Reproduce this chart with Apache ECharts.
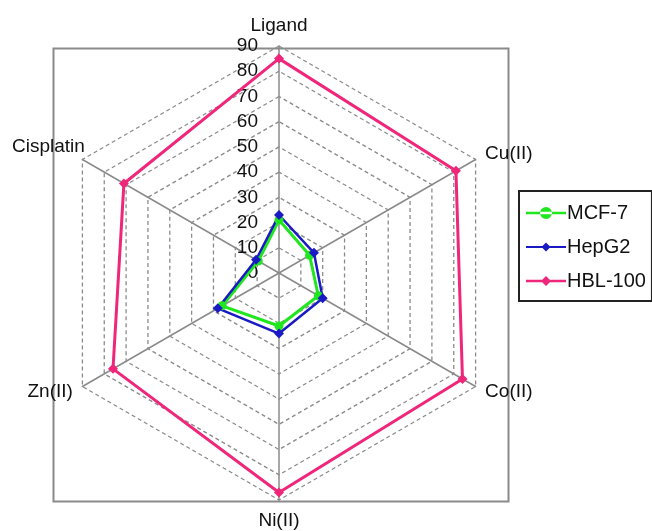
<!DOCTYPE html>
<html>
<head>
<meta charset="utf-8">
<script src="https://cdn.jsdelivr.net/npm/echarts@6/dist/echarts.min.js"></script>
<style>
html,body{margin:0;padding:0;background:#fff;}
#chart{width:652px;height:531px;}
</style>
</head>
<body>
<div id="chart"></div>
<script>
// Categories in the picture's clockwise order starting from the top
const categories = ['Ligand', 'Cu(II)', 'Co(II)', 'Ni(II)', 'Zn(II)', 'Cisplatin'];
const mcf7 = [21, 14, 18, 21, 26, 9.5];
const hepg2 = [23, 16, 20, 24, 28, 10.5];
const hbl100 = [85, 81, 84, 87, 76, 71];
const seriesNames = ['MCF-7', 'HepG2', 'HBL-100'];
const axisMin = 0, axisMax = 90, axisSplit = 9;

// ECharts lays indicators counter-clockwise; reorder to get clockwise placement
const order = [0, 5, 4, 3, 2, 1];
const reorder = arr => order.map(i => arr[i]);

const FONT = 'Liberation Sans, Arial, Helvetica, sans-serif';
const colors = ['#1fe61f', '#1a1ac4', '#f0267a'];

const chart = echarts.init(document.getElementById('chart'), null, {renderer: 'canvas'});

const indicators = reorder(categories).map((name, k) => {
  const ind = {name: name, min: axisMin, max: axisMax};
  if (k === 0) {
    ind.axisLabel = {show: true};
  }
  return ind;
});

const icons = [
  'path://M0,4.8H40V7.2H0Z M14,6A6,6 0 1 0 26,6A6,6 0 1 0 14,6Z',
  'path://M0,4.9H40V7.1H0Z M20,1.5L24.5,6L20,10.5L15.5,6Z',
  'path://M0,4.8H40V7.2H0Z M20,1L25,6L20,11L15,6Z'
];

const option = {
  backgroundColor: '#ffffff',
  animation: false,
  color: colors,
  graphic: [{
    type: 'rect',
    left: 51, top: 46,
    shape: {width: 455, height: 453},
    style: {fill: 'none', stroke: '#8a8a8a', lineWidth: 2},
    z: 0
  }],
  legend: {
    orient: 'vertical',
    left: 519, top: 191,
    width: 125,
    padding: [12, 6, 10, 7],
    itemGap: 14,
    itemWidth: 40,
    itemHeight: 12,
    borderColor: '#222',
    borderWidth: 2,
    backgroundColor: '#fff',
    textStyle: {fontFamily: FONT, fontSize: 20, color: '#111', padding: [0, 0, 0, -4]},
    data: seriesNames.map((n, i) => ({name: n, icon: icons[i]}))
  },
  radar: {
    center: [279, 273],
    radius: 227,
    startAngle: 90,
    shape: 'polygon',
    splitNumber: axisSplit,
    indicator: indicators,
    axisName: {
      color: '#111', fontSize: 19, fontFamily: FONT,
      formatter: function (name) {
        return name === 'Cisplatin' ? '{cis|' + name + '}' : name;
      },
      rich: {
        cis: {color: '#111', fontSize: 19, fontFamily: FONT, padding: [0, -12, 14, 0]}
      }
    },
    nameGap: 11,
    axisLine: {show: true, lineStyle: {color: '#8a8a8a', width: 1.5}},
    splitLine: {show: true, lineStyle: {color: '#8a8a8a', width: 1.3, type: [4, 3]}},
    splitArea: {show: false},
    axisTick: {show: false},
    axisLabel: {show: false, fontSize: 19, color: '#111', fontFamily: FONT, margin: 21}
  },
  series: [{
    type: 'radar',
    z: 3,
    data: [
      {
        name: seriesNames[0], value: reorder(mcf7),
        symbol: 'circle', symbolSize: 9,
        lineStyle: {width: 3, color: colors[0]},
        itemStyle: {color: colors[0]}
      },
      {
        name: seriesNames[1], value: reorder(hepg2),
        symbol: 'diamond', symbolSize: 10,
        lineStyle: {width: 2.5, color: colors[1]},
        itemStyle: {color: colors[1]}
      },
      {
        name: seriesNames[2], value: reorder(hbl100),
        symbol: 'diamond', symbolSize: 10,
        lineStyle: {width: 3, color: colors[2]},
        itemStyle: {color: colors[2]}
      }
    ]
  }]
};
chart.setOption(option);
</script>
</body>
</html>
